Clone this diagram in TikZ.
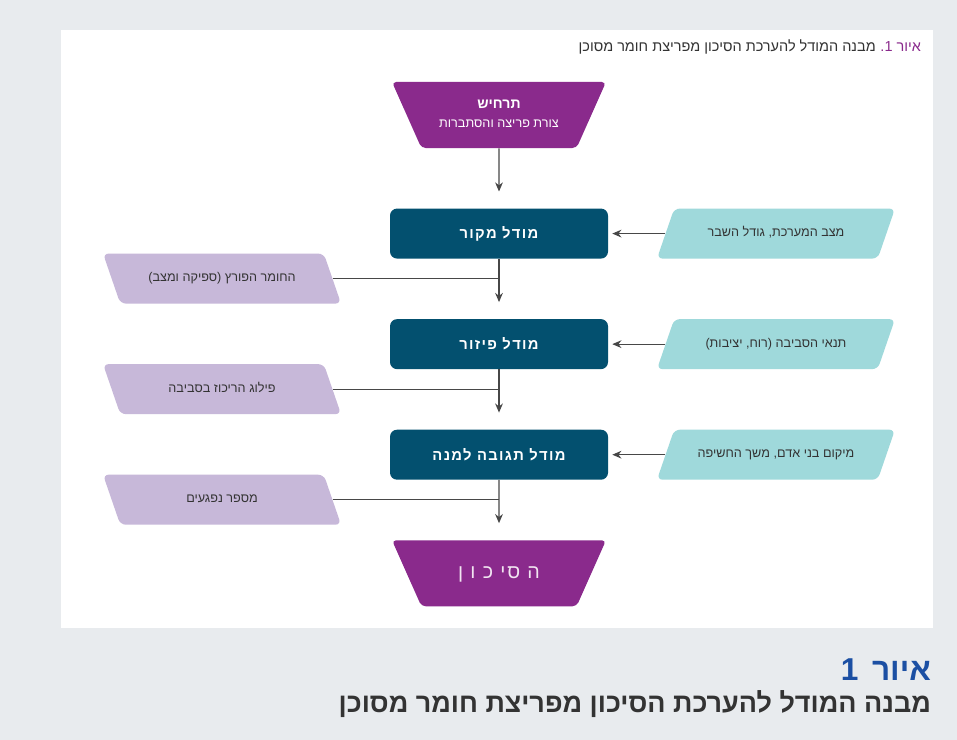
\documentclass[tikz,border=0pt]{standalone}
\usepackage{fontspec}
\TeXXeTstate=1
\newfontfamily\hebfont[Script=Hebrew]{Liberation Sans}
\newfontfamily\hebwide[Script=Hebrew,LetterSpace=9]{Liberation Sans}
\usetikzlibrary{positioning,shapes.geometric,arrows.meta}

\definecolor{bggray}{HTML}{E8EBEE}
\definecolor{scenpurple}{HTML}{8A2A8C}
\definecolor{modelblue}{HTML}{03506F}
\definecolor{inteal}{HTML}{9FD9DB}
\definecolor{outlilac}{HTML}{C7B8D9}
\definecolor{linegray}{HTML}{474747}
\definecolor{capblue}{HTML}{1B4FA3}
\definecolor{captext}{HTML}{333333}

\tikzstyle{model} = [rectangle,
                     rounded corners=5pt,
                     minimum width=5.45cm,
                     minimum height=1.25cm,
                     text centered,
                     fill=modelblue,
                     text=white,
                     font=\hebwide\bfseries\fontsize{10.5}{12}\selectfont]
\tikzstyle{scen} = [trapezium,
                    trapezium stretches body,
                    shape border rotate=180,
                    trapezium angle=66,
                    rounded corners=3pt,
                    minimum width=5.35cm,
                    minimum height=1.65cm,
                    fill=scenpurple,
                    text=white]
\tikzstyle{inpar} = [trapezium,
                     trapezium stretches body,
                     trapezium left angle=71,
                     trapezium right angle=109,
                     rounded corners=4pt,
                     minimum width=5.95cm,
                     minimum height=1.25cm,
                     text height=7pt,
                     text depth=2.5pt,
                     inner ysep=13.03pt,
                     fill=inteal,
                     text=captext,
                     font=\hebfont\fontsize{9}{11}\selectfont]
\tikzstyle{outpar} = [inpar,
                      trapezium left angle=109,
                      trapezium right angle=71,
                      fill=outlilac]
\tikzstyle{line} = [draw=linegray, line width=0.8pt]
\tikzstyle{arrow} = [line, -{Stealth[length=6.5pt,width=5.5pt]}]

\begin{document}
\begin{tikzpicture}[node distance=1.5cm]
% background and white panel
\fill[bggray] (0,0) rectangle (23.925,-18.5);
\useasboundingbox (0,0) rectangle (23.925,-18.5);
\fill[white] (1.525,-0.75) rectangle (23.325,-15.7);

% header
\node (hnum) [anchor=east, inner sep=0pt, text=scenpurple, font=\hebfont\fontsize{10.3}{12}\selectfont] at (23.03,-1.17) {\beginR איור 1\kern0pt.\endR};
\node (htxt) [left=3pt of hnum, inner sep=0pt, text=captext, font=\hebfont\fontsize{10.3}{12}\selectfont] {\beginR מבנה המודל להערכת הסיכון מפריצת חומר מסוכן\endR};

% chain
\node (t1) [scen, text height=14pt, text depth=10pt, inner ysep=11.48pt] at (12.475,-2.875) {\begin{tabular}{@{}c@{}} {\hebfont\bfseries\fontsize{10}{13}\selectfont\beginR תרחיש\endR}\\[1.5pt] {\hebfont\fontsize{9}{11}\selectfont\beginR צורת פריצה והסתברות\endR} \end{tabular}};
\node (m1) [model, below= of t1] {\beginR מודל מקור\endR};
\node (m2) [model, below= of m1] {\beginR מודל פיזור\endR};
\node (m3) [model, below= of m2] {\beginR מודל תגובה למנה\endR};
\node (t2) [scen, below= of m3, text height=10pt, text depth=3pt, inner ysep=16.97pt, text=white!88!scenpurple, font=\hebwide\fontsize{14}{16}\selectfont] {\beginR ה סי כ ו ן\endR};

% inputs
\node (i1) [inpar, right=1.425cm of m1] {\beginR מצב המערכת, גודל השבר\endR};
\node (i2) [inpar, right=1.425cm of m2] {\beginR תנאי הסביבה (רוח, יציבות)\endR};
\node (i3) [inpar, right=1.425cm of m3] {\beginR מיקום בני אדם, משך החשיפה\endR};

% outputs
\node (o1) [outpar, left=1.425cm of m1, yshift=-1.125cm] {\beginR החומר הפורץ (ספיקה ומצב)\endR};
\node (o2) [outpar, left=1.425cm of m2, yshift=-1.125cm] {\beginR פילוג הריכוז בסביבה\endR};
\node (o3) [outpar, left=1.425cm of m3, yshift=-1.125cm] {\beginR מספר נפגעים\endR};

% connectors
\draw[arrow, shorten >=0.42cm] (t1) -- (m1);
\draw[arrow, shorten >=0.42cm] (m1) -- (m2);
\draw[arrow, shorten >=0.42cm] (m2) -- (m3);
\draw[arrow, shorten >=0.42cm] (m3) -- (t2);
\draw[arrow, shorten >=0.1cm] (i1.west) -- (m1.east);
\draw[arrow, shorten >=0.1cm] (i2.west) -- (m2.east);
\draw[arrow, shorten >=0.1cm] (i3.west) -- (m3.east);
\draw[line] (o1.east) -- (o1.east -| m1.south);
\draw[line] (o2.east) -- (o2.east -| m2.south);
\draw[line] (o3.east) -- (o3.east -| m3.south);

% caption
\node (cnum) [anchor=east, inner sep=0pt, text=capblue, font=\hebfont\bfseries\fontsize{22.5}{26}\selectfont] at (23.28,-16.75) {\beginR איור\hspace{0.15em} 1\endR};
\node (ctxt) [anchor=east, inner sep=0pt, text=captext, font=\hebfont\bfseries\fontsize{19.2}{22}\selectfont] at (23.28,-17.6) {\beginR מבנה המודל להערכת הסיכון מפריצת חומר מסוכן\endR};
\end{tikzpicture}
\end{document}
